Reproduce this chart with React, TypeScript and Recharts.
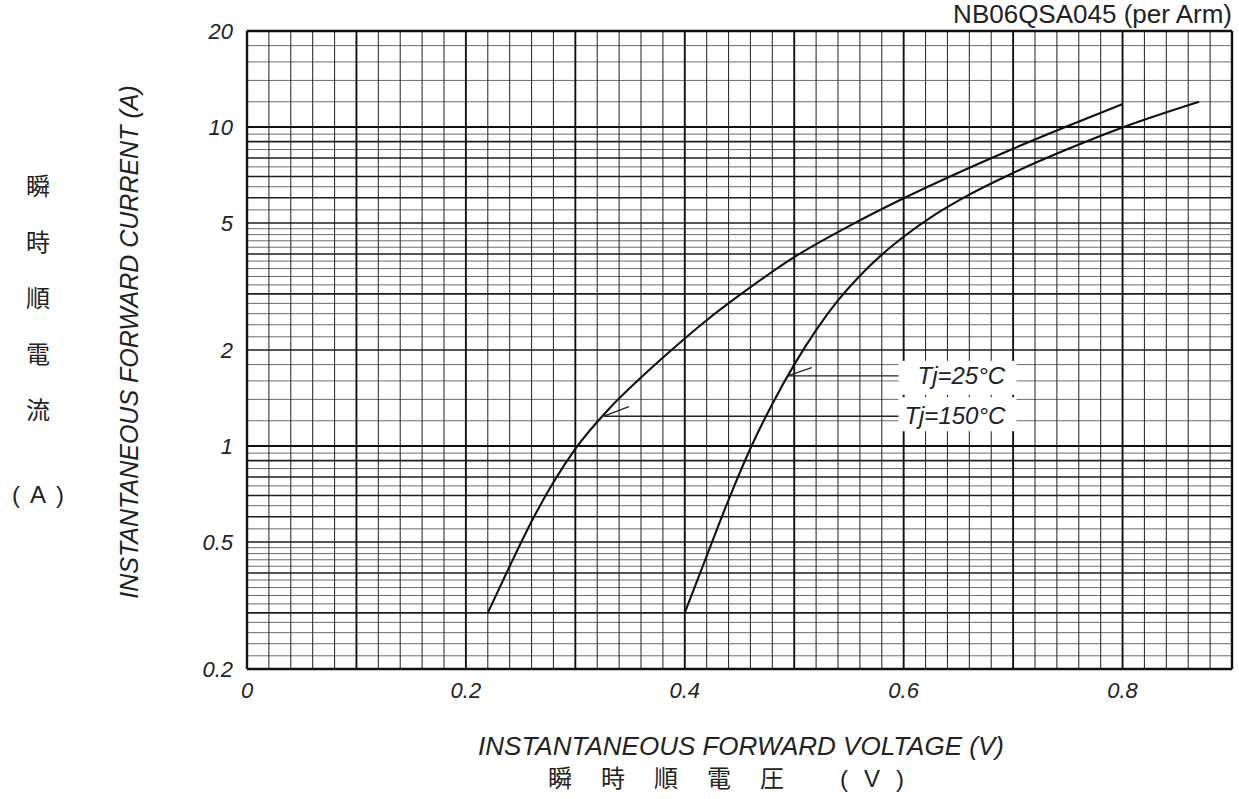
import React from 'react';
import { LineChart, Line, XAxis, YAxis, ReferenceLine } from 'recharts';

// forward voltage (V) vs forward current (A)
const VF_150 = [0.22, 0.24, 0.26, 0.28, 0.3, 0.33, 0.36, 0.39, 0.42, 0.45, 0.5, 0.55, 0.6, 0.65, 0.7, 0.75, 0.8];
const IF_150 = [0.3, 0.42, 0.58, 0.77, 0.98, 1.3, 1.64, 2.03, 2.48, 2.97, 3.91, 4.89, 5.98, 7.19, 8.55, 10.07, 11.8];

const VF_25 = [0.4, 0.42, 0.44, 0.461, 0.48, 0.5, 0.52, 0.54, 0.56, 0.58, 0.6, 0.63, 0.66, 0.7, 0.75, 0.8, 0.87];
const IF_25 = [0.3, 0.452, 0.678, 1.0, 1.355, 1.8, 2.31, 2.86, 3.42, 3.98, 4.53, 5.35, 6.14, 7.18, 8.53, 9.97, 12.0];

const X_TICKS = [0, 0.2, 0.4, 0.6, 0.8];
const Y_TICKS = [0.2, 0.5, 1, 2, 5, 10, 20];

// graph paper
const X_BORDER = [0, 0.9];
const X_MAJOR = [0.1, 0.2, 0.3, 0.4, 0.5, 0.6, 0.7, 0.8];
const X_MINOR = [
  0.02, 0.04, 0.06, 0.08, 0.12, 0.14, 0.16, 0.18, 0.22, 0.24, 0.26, 0.28,
  0.32, 0.34, 0.36, 0.38, 0.42, 0.44, 0.46, 0.48, 0.52, 0.54, 0.56, 0.58,
  0.62, 0.64, 0.66, 0.68, 0.72, 0.74, 0.76, 0.78, 0.82, 0.84, 0.86, 0.88,
];
const Y_BORDER = [0.2, 20];
const Y_DECADE = [1, 10];
const Y_MAJOR = [0.3, 0.4, 0.5, 0.6, 0.7, 0.8, 0.9, 2, 3, 4, 5, 6, 7, 8, 9];
const Y_MINOR = [
  0.22, 0.24, 0.26, 0.28, 0.32, 0.34, 0.36, 0.38, 0.42, 0.44, 0.46, 0.48,
  0.55, 0.65, 0.75, 0.85, 0.95, 1.2, 1.4, 1.6, 1.8,
  2.2, 2.4, 2.6, 2.8, 3.2, 3.4, 3.6, 3.8, 4.2, 4.4, 4.6, 4.8,
  5.5, 6.5, 7.5, 8.5, 9.5, 12, 14, 16, 18,
];

const CJK_LEFT = ['瞬', '時', '順', '電', '流'];
const CJK_BOTTOM = ['瞬', '時', '順', '電', '圧'];

const hot = VF_150.map((v, k) => ({ v, i: IF_150[k] }));
const cold = VF_25.map((v, k) => ({ v, i: IF_25[k] }));

const latin = 'Liberation Sans, Arial, sans-serif';
const cjkFont = '"Noto Sans CJK JP", "Noto Sans CJK SC", sans-serif';
const tickStyle = { fontSize: 22, fontStyle: 'italic', fill: '#222', fontFamily: latin };

function tjLabel(text: string, boxLeft: number, boxTop: number, boxH: number) {
  return (props: any) => {
    const vb = props.viewBox || {};
    const endX = vb.x + vb.width;
    const y = vb.y;
    return (
      <g>
        <rect x={endX - boxLeft} y={y - boxTop} width={118} height={boxH} fill="#fff" />
        <text x={endX + 4} y={y + 8} fontSize={24} fontStyle="italic" fill="#222" fontFamily={latin}>
          {text}
        </text>
      </g>
    );
  };
}

export default function App() {
  return (
    <div style={{ position: 'absolute', left: 0, top: 0, width: 1239, height: 799, background: '#fff' }}>
      <LineChart
        width={1239}
        height={799}
        margin={{ top: 31, right: 7, bottom: 90, left: 187 }}
        style={{ fontFamily: latin }}
      >
        <XAxis
          type="number"
          dataKey="v"
          domain={[0, 0.9]}
          ticks={X_TICKS}
          allowDataOverflow
          axisLine={false}
          tickLine={false}
          tickSize={6}
          tickMargin={7}
          height={40}
          tick={tickStyle}
        />
        <YAxis
          type="number"
          scale="log"
          domain={[0.2, 20]}
          ticks={Y_TICKS}
          allowDataOverflow
          axisLine={false}
          tickLine={false}
          tickSize={6}
          tickMargin={8}
          width={60}
          tick={tickStyle}
        />

        {Y_MINOR.map((y) => (
          <ReferenceLine key={'ym' + y} y={y} stroke="#5a5a5a" strokeWidth={0.9} />
        ))}
        {X_MINOR.map((x) => (
          <ReferenceLine key={'xm' + x} x={x} stroke="#333" strokeWidth={1.1} />
        ))}
        {Y_MAJOR.map((y) => (
          <ReferenceLine key={'yM' + y} y={y} stroke="#1e1e1e" strokeWidth={1.6} />
        ))}
        {X_MAJOR.map((x) => (
          <ReferenceLine key={'xM' + x} x={x} stroke="#111" strokeWidth={1.9} />
        ))}
        {Y_DECADE.map((y) => (
          <ReferenceLine key={'yd' + y} y={y} stroke="#111" strokeWidth={2.1} />
        ))}
        {X_BORDER.map((x) => (
          <ReferenceLine key={'xb' + x} x={x} stroke="#111" strokeWidth={2.4} />
        ))}
        {Y_BORDER.map((y) => (
          <ReferenceLine key={'yb' + y} y={y} stroke="#111" strokeWidth={2.4} />
        ))}

        {/* leaders to the curves */}
        <ReferenceLine
          segment={[{ x: 0.494, y: 1.66 }, { x: 0.609, y: 1.66 }]}
          stroke="#222"
          strokeWidth={1.3}
          label={tjLabel('Tj=25°C', 15, 15, 34)}
        />
        <ReferenceLine
          segment={[{ x: 0.326, y: 1.24 }, { x: 0.597, y: 1.24 }]}
          stroke="#222"
          strokeWidth={1.3}
          label={tjLabel('Tj=150°C', 2, 19, 34)}
        />
        <ReferenceLine segment={[{ x: 0.494, y: 1.66 }, { x: 0.516, y: 1.76 }]} stroke="#222" strokeWidth={1.3} />
        <ReferenceLine segment={[{ x: 0.326, y: 1.24 }, { x: 0.349, y: 1.33 }]} stroke="#222" strokeWidth={1.3} />

        <Line
          data={hot}
          dataKey="i"
          type="monotone"
          stroke="#111"
          strokeWidth={2.1}
          dot={false}
          isAnimationActive={false}
        />
        <Line
          data={cold}
          dataKey="i"
          type="monotone"
          stroke="#111"
          strokeWidth={2.1}
          dot={false}
          isAnimationActive={false}
        />
      </LineChart>

      <svg width={1239} height={799} style={{ position: 'absolute', left: 0, top: 0, pointerEvents: 'none' }}>
        <text x={1232} y={23} textAnchor="end" fontSize={26} fill="#222" fontFamily={latin}>
          NB06QSA045 (per Arm)
        </text>
        <text x={741} y={755} textAnchor="middle" fontSize={26} fontStyle="italic" fill="#222" fontFamily={latin}>
          INSTANTANEOUS FORWARD VOLTAGE (V)
        </text>
        <text
          transform="translate(138 342) rotate(-90)"
          textAnchor="middle"
          fontSize={25}
          fontStyle="italic"
          fill="#222"
          fontFamily={latin}
        >
          INSTANTANEOUS FORWARD CURRENT (A)
        </text>
        {CJK_LEFT.map((c, k) => (
          <text key={'l' + k} x={38} y={195 + k * 56} textAnchor="middle" fontSize={24} fill="#222" fontFamily={cjkFont}>
            {c}
          </text>
        ))}
        <text x={43} y={503} textAnchor="middle" fontSize={24} letterSpacing={10} fill="#222" fontFamily={latin}>
          (A)
        </text>
        {CJK_BOTTOM.map((c, k) => (
          <text key={'b' + k} x={560 + k * 53} y={787} textAnchor="middle" fontSize={24} fill="#222" fontFamily={cjkFont}>
            {c}
          </text>
        ))}
        <text x={880} y={787} textAnchor="middle" fontSize={24} letterSpacing={16} fill="#222" fontFamily={latin}>
          (V)
        </text>
      </svg>
    </div>
  );
}
